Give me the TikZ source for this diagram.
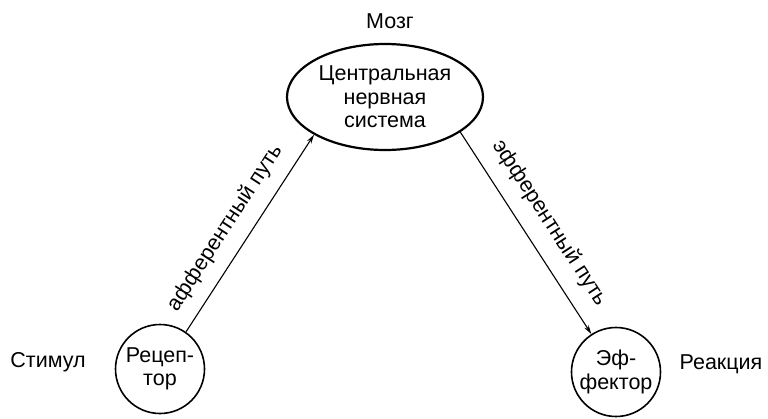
\documentclass[tikz,border=0pt]{standalone}
\usepackage{fontspec}
\setmainfont{Liberation Sans}
\usetikzlibrary{shapes.geometric,arrows.meta}
\begin{document}
\begin{tikzpicture}[x=1pt,y=-1pt,
  fnt/.style={font=\fontsize{21.5}{23.5}\selectfont},
  txt/.style={fnt, inner sep=0pt},
  organ/.style={fnt, draw, line width=1.6pt, circle, minimum size=89pt, inner sep=0pt, align=center},
  center/.style={fnt, draw, line width=2.2pt, ellipse, minimum width=196pt, minimum height=106pt, inner sep=0pt, align=center},
  path/.style={line width=1.1pt, -{Stealth[length=9pt,width=5pt]}},
  lbl/.style={fnt, sloped, inner sep=0pt}]
\useasboundingbox (0,0) rectangle (768,418);
\node[center] (cns) at (385,97) {Центральная\\нервная\\система};
\node[txt] (brain) at (390,21) {Мозг};
\node[organ] (rec) at (160,369) {Рецеп-\\тор};
\node[organ] (eff) at (616,372) {Эф-\\фектор};
\node[txt] (stim) at (48,362) {Стимул};
\node[txt] (react) at (721,364) {Реакция};
\draw[path] (rec.55) -- node[lbl, pos=0.46, above=13pt] (aff) {афферентный путь} (cns.208);
\draw[path] (cns.335) -- node[lbl, pos=0.52, above=15pt] (eff-l) {эфферентный путь} (eff.123);
\end{tikzpicture}
\end{document}
